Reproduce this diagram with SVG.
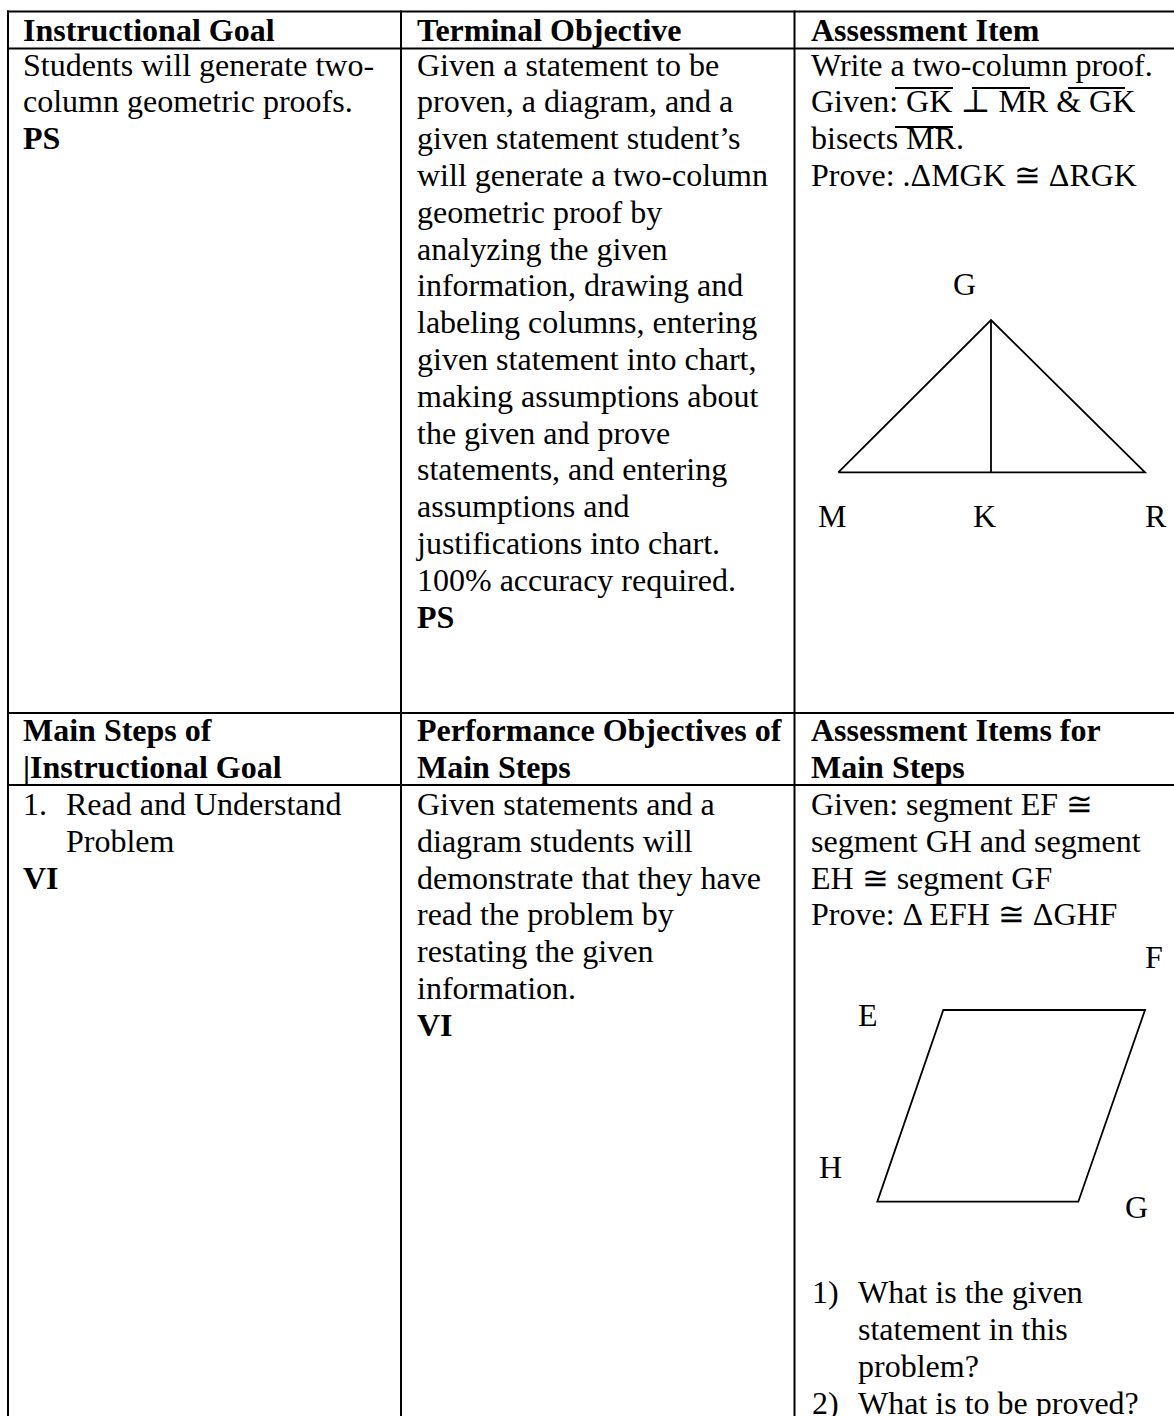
<svg xmlns="http://www.w3.org/2000/svg" width="1174" height="1416" viewBox="0 0 1174 1416">
<style>
text{font-family:"Liberation Serif","Times New Roman","DejaVu Serif",serif;font-size:32px;fill:#000}
.b{font-weight:bold}
.grid{stroke:#000;stroke-width:2;fill:none}
.shape{stroke:#000;stroke-width:1.8;fill:none;stroke-linejoin:miter}
.bar{stroke:#000;stroke-width:2}
</style>
<rect width="1174" height="1416" fill="#fff"/>
<g id="table-grid" class="grid">
<line x1="7" y1="11.5" x2="1174" y2="11.5"/>
<line x1="7" y1="48.5" x2="1174" y2="48.5"/>
<line x1="7" y1="713" x2="1174" y2="713"/>
<line x1="7" y1="785" x2="1174" y2="785"/>
<line x1="8" y1="10.5" x2="8" y2="1416"/>
<line x1="401" y1="10.5" x2="401" y2="1416"/>
<line x1="794.5" y1="10.5" x2="794.5" y2="1416"/>
</g>
<g id="hdr-instructional-goal"><text class="b" x="23" y="41">Instructional Goal</text></g>
<g id="hdr-terminal-objective"><text class="b" x="417" y="41">Terminal Objective</text></g>
<g id="hdr-assessment-item"><text class="b" x="811" y="41">Assessment Item</text></g>
<g id="cell-goal">
<text x="23" y="75.5">Students will generate two-</text>
<text x="23" y="112.3">column geometric proofs.</text>
<text class="b" x="23" y="149.1">PS</text>
</g>
<g id="cell-terminal">
<text x="417" y="75.5">Given a statement to be</text>
<text x="417" y="112.3">proven, a diagram, and a</text>
<text x="417" y="149.1">given statement student’s</text>
<text x="417" y="185.9">will generate a two-column</text>
<text x="417" y="222.7">geometric proof by</text>
<text x="417" y="259.5">analyzing the given</text>
<text x="417" y="296.3">information, drawing and</text>
<text x="417" y="333.1">labeling columns, entering</text>
<text x="417" y="369.9">given statement into chart,</text>
<text x="417" y="406.7">making assumptions about</text>
<text x="417" y="443.5">the given and prove</text>
<text x="417" y="480.3">statements, and entering</text>
<text x="417" y="517.1">assumptions and</text>
<text x="417" y="553.9">justifications into chart.</text>
<text x="417" y="590.7">100% accuracy required.</text>
<text class="b" x="417" y="627.5">PS</text>
</g>
<g id="cell-assessment">
<text x="811" y="75.5">Write a two-column proof.</text>
<text x="811" y="112.3">Given: GK ⊥ MR &amp; GK</text>
<text x="811" y="149.1">bisects MR.</text>
<text x="811" y="185.9">Prove: .ΔMGK ≅ ΔRGK</text>
<line class="bar" x1="895" y1="88" x2="953" y2="88"/>
<line class="bar" x1="972" y1="88" x2="1030" y2="88"/>
<line class="bar" x1="1068" y1="88" x2="1125" y2="88"/>
<line class="bar" x1="895" y1="127" x2="953" y2="127"/>
<polyline class="shape" points="838.3,472.3 991,320 1145,472.3 838.3,472.3"/>
<line class="shape" x1="991" y1="320" x2="991" y2="472.3"/>
<text x="953" y="295">G</text>
<text x="818" y="527">M</text>
<text x="973" y="527">K</text>
<text x="1145" y="527">R</text>
</g>
<g id="hdr-main-steps">
<text class="b" x="23" y="741">Main Steps of</text>
<text class="b" x="23" y="777.8">|Instructional Goal</text>
</g>
<g id="hdr-performance-objectives">
<text class="b" x="417" y="741">Performance Objectives of</text>
<text class="b" x="417" y="777.8">Main Steps</text>
</g>
<g id="hdr-assessment-items">
<text class="b" x="811" y="741">Assessment Items for</text>
<text class="b" x="811" y="777.8">Main Steps</text>
</g>
<g id="cell-step1">
<text x="23" y="815">1.</text>
<text x="66" y="815">Read and Understand</text>
<text x="66" y="851.8">Problem</text>
<text class="b" x="23" y="888.6">VI</text>
</g>
<g id="cell-performance">
<text x="417" y="815">Given statements and a</text>
<text x="417" y="851.8">diagram students will</text>
<text x="417" y="888.6">demonstrate that they have</text>
<text x="417" y="925.4">read the problem by</text>
<text x="417" y="962.2">restating the given</text>
<text x="417" y="999">information.</text>
<text class="b" x="417" y="1035.8">VI</text>
</g>
<g id="cell-assessment-items">
<text x="811" y="815">Given: segment EF ≅</text>
<text x="811" y="851.8">segment GH and segment</text>
<text x="811" y="888.6">EH ≅ segment GF</text>
<text x="811" y="925.4">Prove: Δ EFH ≅ ΔGHF</text>
<polygon class="shape" points="943.3,1010 1145,1010 1078.3,1201.7 877.3,1201.7"/>
<text x="1145" y="968">F</text>
<text x="858" y="1026">E</text>
<text x="819" y="1178">H</text>
<text x="1125" y="1218">G</text>
<text x="812" y="1303">1)</text>
<text x="858" y="1303">What is the given</text>
<text x="858" y="1340">statement in this</text>
<text x="858" y="1377">problem?</text>
<text x="812" y="1414">2)</text>
<text x="858" y="1414">What is to be proved?</text>
</g>
</svg>
